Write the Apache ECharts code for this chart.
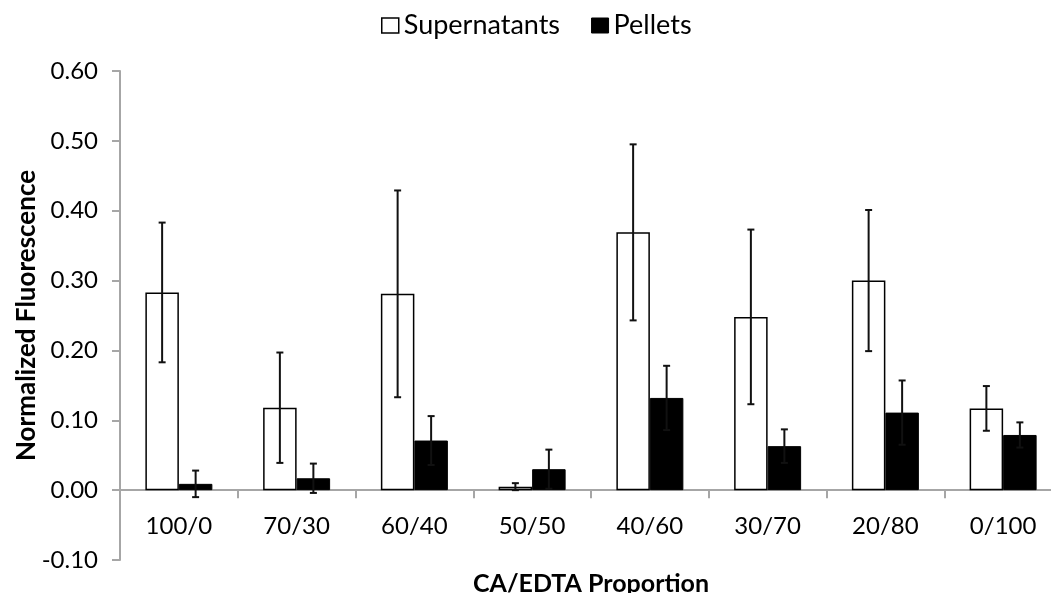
<!DOCTYPE html>
<html>
<head>
<meta charset="utf-8">
<script src="https://cdn.jsdelivr.net/npm/echarts@6/dist/echarts.min.js"></script>
<style>html,body{margin:0;padding:0;background:#fff;}#c{width:1051px;height:593px;}</style>
</head>
<body>
<div id="c"></div>
<script>
var categories = ['100/0', '70/30', '60/40', '50/50', '40/60', '30/70', '20/80', '0/100'];
var supernatants = [0.283, 0.118, 0.281, 0.005, 0.369, 0.248, 0.300, 0.117];
var supernatantsErr = [0.100, 0.079, 0.148, 0.005, 0.126, 0.125, 0.101, 0.032];
var pellets = [0.009, 0.017, 0.071, 0.030, 0.132, 0.063, 0.111, 0.079];
var pelletsErr = [0.019, 0.021, 0.035, 0.028, 0.046, 0.024, 0.046, 0.018];
var yTicks = [-0.10, 0.00, 0.10, 0.20, 0.30, 0.40, 0.50, 0.60];

var FONT = 'Lato';
var GAP = 0.431; // barCategoryGap fraction
var Y_MIN = -0.1, Y_MAX = 0.6;
var GRID_TOP = 71, GRID_BOTTOM = 33, H = 593;
// distance (px) from grid bottom up to the zero line
var zeroOffset = (H - GRID_TOP - GRID_BOTTOM) * (0 - Y_MIN) / (Y_MAX - Y_MIN);

function errSeries(name, values, errs, side) {
  return {
    type: 'custom',
    name: name + ' error',
    silent: true,
    z: 5,
    data: values.map(function (v, i) { return [i, v, errs[i]]; }),
    renderItem: function (params, api) {
      var i = api.value(0), v = api.value(1), e = api.value(2);
      var cw = api.size([1, 0])[0];
      var bw = cw * (1 - GAP) / 2;
      var c = api.coord([i, v]);
      var x = c[0] + side * bw / 2;
      var top = api.coord([i, v + e])[1];
      var bot = api.coord([i, v - e])[1];
      var cap = 3.5;
      var st = { stroke: '#111', lineWidth: 2 };
      return {
        type: 'group',
        children: [
          { type: 'line', shape: { x1: x, y1: top, x2: x, y2: bot }, style: st },
          { type: 'line', shape: { x1: x - cap, y1: top, x2: x + cap, y2: top }, style: st },
          { type: 'line', shape: { x1: x - cap, y1: bot, x2: x + cap, y2: bot }, style: st }
        ]
      };
    }
  };
}

var chart = echarts.init(document.getElementById('c'), null, { renderer: 'canvas' });
chart.setOption({
  animation: false,
  textStyle: { fontFamily: FONT },
  legend: {
    top: 7,
    left: 376,
    itemWidth: 17,
    itemHeight: 15,
    itemGap: 31,
    textStyle: { fontFamily: FONT, fontSize: 27, color: '#000' },
    data: [
      { name: 'Supernatants', icon: 'rect', itemStyle: { color: '#fff', borderColor: '#000', borderWidth: 1.5 } },
      { name: 'Pellets', icon: 'rect', itemStyle: { color: '#000', borderColor: '#000', borderWidth: 1 } }
    ]
  },
  grid: { left: 120, right: -11, top: GRID_TOP, bottom: GRID_BOTTOM, containLabel: false, outerBoundsMode: 'none' },
  xAxis: {
    type: 'category',
    data: categories,
    position: 'bottom',
    offset: -zeroOffset,
    name: 'CA/EDTA Proportion',
    nameLocation: 'middle',
    nameGap: 81,
    nameMoveOverlap: false,
    nameTextStyle: { fontFamily: FONT, fontSize: 25, fontWeight: 'bold', color: '#000' },
    axisLine: { onZero: false, lineStyle: { color: '#a6a6a6', width: 2 } },
    axisTick: { show: true, length: 8, inside: false, lineStyle: { color: '#a6a6a6', width: 2 } },
    axisLabel: { fontFamily: FONT, fontSize: 24, color: '#000', margin: 24 }
  },
  yAxis: {
    type: 'value',
    min: Y_MIN,
    max: Y_MAX,
    interval: 0.1,
    name: 'Normalized Fluorescence',
    nameLocation: 'middle',
    nameGap: 80,
    nameRotate: 90,
    nameMoveOverlap: false,
    nameTextStyle: { fontFamily: FONT, fontSize: 26, fontWeight: 'bold', color: '#000' },
    splitLine: { show: false },
    axisLine: { show: true, lineStyle: { color: '#a6a6a6', width: 2 } },
    axisTick: { show: true, length: 8, lineStyle: { color: '#a6a6a6', width: 2 } },
    axisLabel: {
      fontFamily: FONT, fontSize: 24, color: '#000', margin: 22,
      formatter: function (v) { return v.toFixed(2); }
    }
  },
  series: [
    {
      name: 'Supernatants',
      type: 'bar',
      data: supernatants,
      barGap: '0%',
      barCategoryGap: (GAP * 100) + '%',
      itemStyle: { color: '#fff', borderColor: '#000', borderWidth: 1.5 }
    },
    {
      name: 'Pellets',
      type: 'bar',
      data: pellets,
      barGap: '0%',
      barCategoryGap: (GAP * 100) + '%',
      itemStyle: { color: '#000', borderColor: '#000', borderWidth: 1 }
    },
    errSeries('Supernatants', supernatants, supernatantsErr, -1),
    errSeries('Pellets', pellets, pelletsErr, 1)
  ]
});
</script>
</body>
</html>
